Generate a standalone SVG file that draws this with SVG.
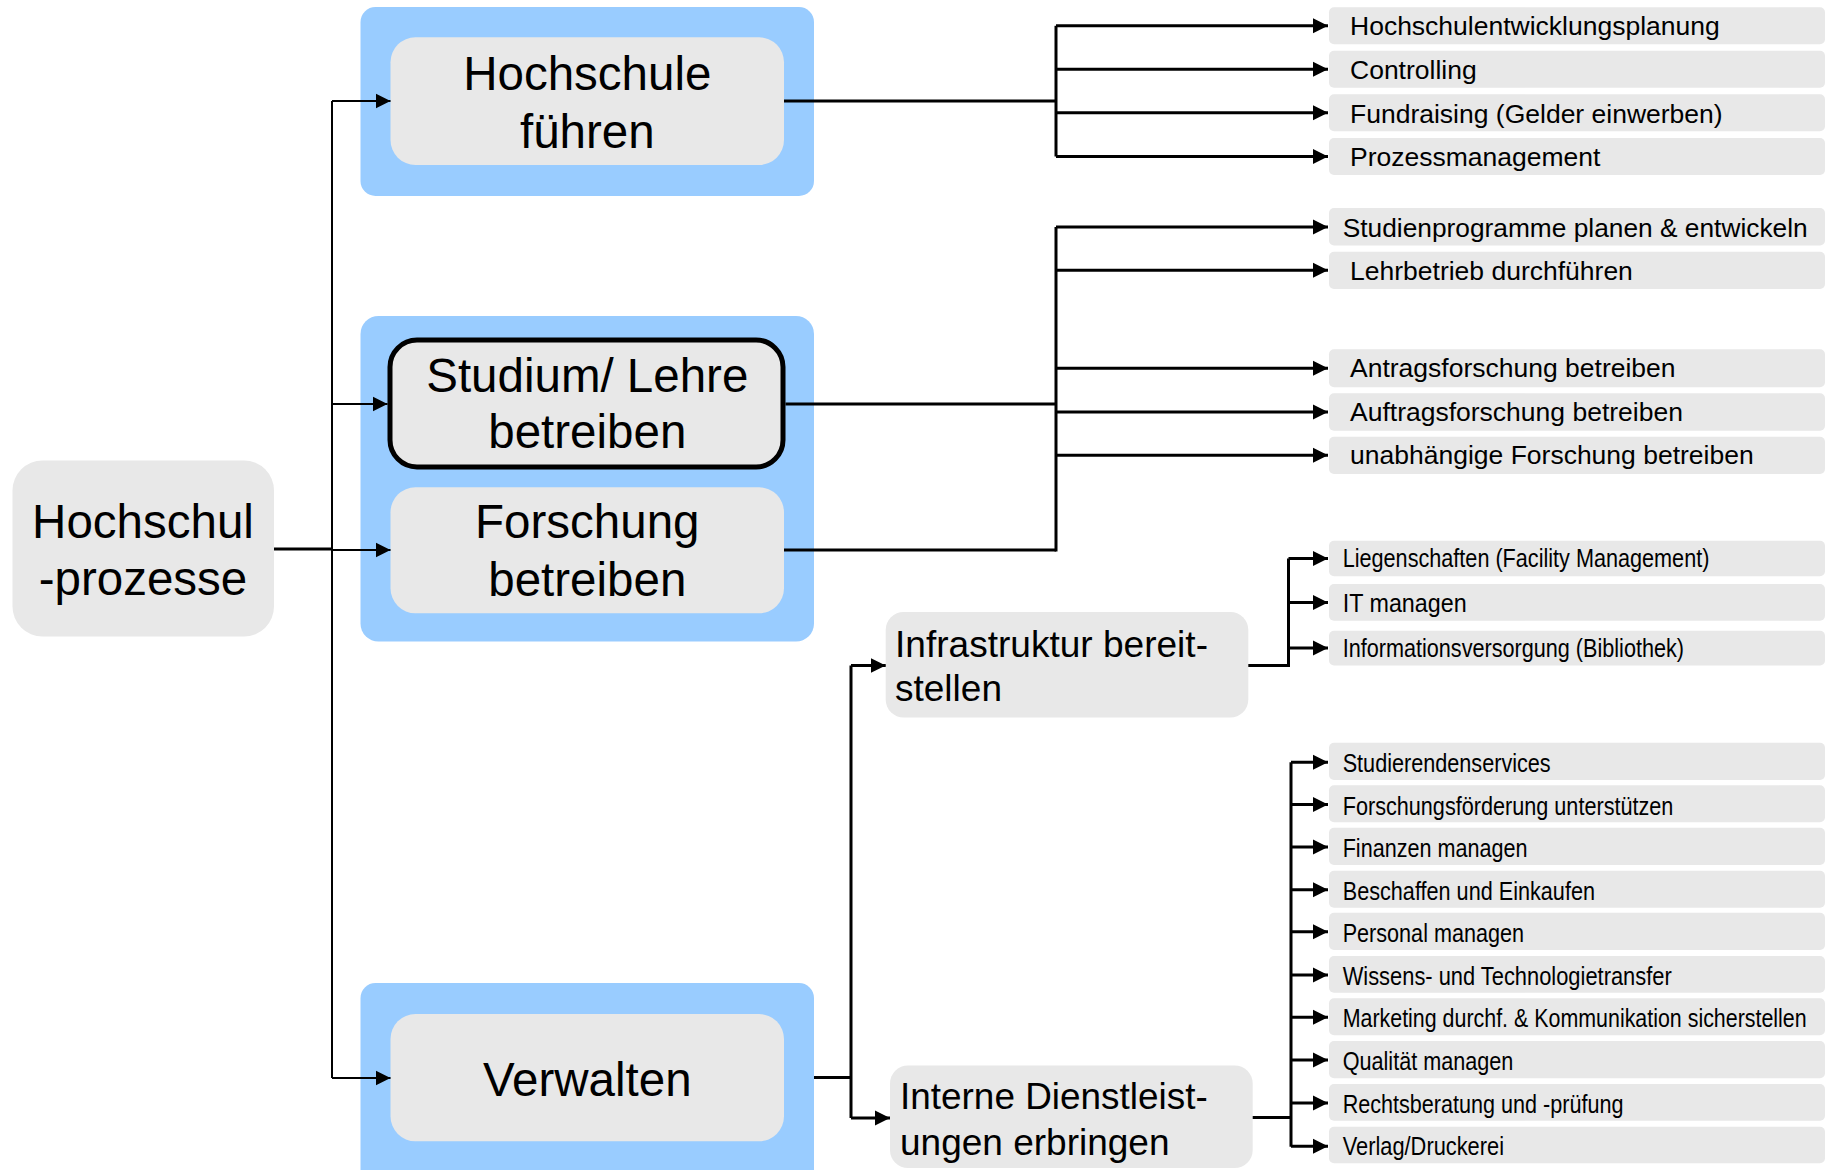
<svg xmlns="http://www.w3.org/2000/svg" width="1825" height="1170" viewBox="0 0 1825 1170">
<defs>
<marker id="ah" markerUnits="userSpaceOnUse" markerWidth="16" markerHeight="16" refX="15" refY="8" orient="auto">
<path d="M0,0.5 L15,8 L0,15.5 z" fill="#000"/>
</marker>
<style>
.blue{fill:#99CCFF}
.grey{fill:#E8E8E8}
.big{font-family:"Liberation Sans",Arial,sans-serif;font-size:47.5px;fill:#000;text-anchor:middle}
.mid{font-family:"Liberation Sans",Arial,sans-serif;font-size:37px;fill:#000}
.item{font-family:"Liberation Sans",Arial,sans-serif;font-size:26.5px;fill:#000}
.narrow{font-family:"Liberation Sans Narrow","Arial Narrow","Liberation Sans",sans-serif;font-size:26px;fill:#000}
.ln{fill:none;stroke:#000;stroke-width:3}
.thin{fill:none;stroke:#000;stroke-width:2}
.arr{fill:none;stroke:#000;stroke-width:3;marker-end:url(#ah)}
.arrthin{fill:none;stroke:#000;stroke-width:2;marker-end:url(#ah)}
</style>
</defs>

<g id="root">
<rect class="grey" x="12.5" y="460.5" width="261.5" height="176" rx="30"/>
<text class="big" x="143" y="538.3">Hochschul</text>
<text class="big" x="143" y="595">-prozesse</text>
</g>

<g id="hochschule-fuehren">
<rect class="blue" x="360.5" y="7" width="453.5" height="189" rx="15"/>
<rect class="grey" x="390.5" y="37.3" width="393.5" height="127.7" rx="25"/>
<text class="big" x="587.3" y="90">Hochschule</text>
<text class="big" x="587.3" y="147.7">führen</text>
</g>

<g id="kern">
<rect class="blue" x="360.5" y="316" width="453.5" height="325.5" rx="18"/>
</g>

<g id="studium-lehre">
<rect class="grey" x="390" y="340" width="393" height="127" rx="27" stroke="#000" stroke-width="5"/>
<text class="big" x="587.3" y="391.7">Studium/ Lehre</text>
<text class="big" x="587.3" y="448.3">betreiben</text>
</g>

<g id="forschung">
<rect class="grey" x="390.5" y="487.3" width="393.5" height="126" rx="25"/>
<text class="big" x="587.3" y="538.3">Forschung</text>
<text class="big" x="587.3" y="596">betreiben</text>
</g>

<g id="verwalten">
<rect class="blue" x="360.5" y="983" width="453.5" height="202" rx="15"/>
<rect class="grey" x="390.5" y="1014" width="393.5" height="127.3" rx="25"/>
<text class="big" x="587.3" y="1096">Verwalten</text>
</g>

<g id="infrastruktur">
<rect class="grey" x="885.7" y="612" width="362.6" height="105.5" rx="18"/>
<text class="mid" x="895" y="657" textLength="313" lengthAdjust="spacingAndGlyphs">Infrastruktur bereit-</text>
<text class="mid" x="895" y="700.7">stellen</text>
</g>

<g id="interne-dienstleistungen">
<rect class="grey" x="890" y="1065.5" width="362.7" height="102.5" rx="18"/>
<text class="mid" x="900" y="1109" textLength="307.7" lengthAdjust="spacingAndGlyphs">Interne Dienstleist-</text>
<text class="mid" x="900" y="1154.5">ungen erbringen</text>
</g>

<g id="items-fuehren">
<rect class="grey" x="1329" y="7.3" width="496" height="37" rx="5"/>
<text class="item" x="1350" y="35">Hochschulentwicklungsplanung</text>
<rect class="grey" x="1329" y="50.7" width="496" height="37" rx="5"/>
<text class="item" x="1350" y="79">Controlling</text>
<rect class="grey" x="1329" y="94.3" width="496" height="37" rx="5"/>
<text class="item" x="1350" y="122.7">Fundraising (Gelder einwerben)</text>
<rect class="grey" x="1329" y="138" width="496" height="37" rx="5"/>
<text class="item" x="1350" y="165.7">Prozessmanagement</text>
</g>

<g id="items-studium">
<rect class="grey" x="1329" y="208" width="496" height="37.5" rx="5"/>
<text class="item" x="1342.7" y="236.7" textLength="465" lengthAdjust="spacingAndGlyphs">Studienprogramme planen &amp; entwickeln</text>
<rect class="grey" x="1329" y="251.7" width="496" height="37.3" rx="5"/>
<text class="item" x="1350" y="280">Lehrbetrieb durchführen</text>
</g>

<g id="items-forschung">
<rect class="grey" x="1329" y="349.3" width="496" height="38" rx="5"/>
<text class="item" x="1350" y="377.3">Antragsforschung betreiben</text>
<rect class="grey" x="1329" y="393.3" width="496" height="37.4" rx="5"/>
<text class="item" x="1350" y="421">Auftragsforschung betreiben</text>
<rect class="grey" x="1329" y="436.7" width="496" height="37.3" rx="5"/>
<text class="item" x="1350" y="464.3">unabhängige Forschung betreiben</text>
</g>

<g id="items-infrastruktur">
<rect class="grey" x="1329" y="540.7" width="496" height="35.5" rx="5"/>
<text class="narrow" x="1342.7" y="567" textLength="366.7" lengthAdjust="spacingAndGlyphs">Liegenschaften (Facility Management)</text>
<rect class="grey" x="1329" y="584" width="496" height="36.7" rx="5"/>
<text class="narrow" x="1342.7" y="611.7" textLength="124" lengthAdjust="spacingAndGlyphs">IT managen</text>
<rect class="grey" x="1329" y="630.7" width="496" height="34.8" rx="5"/>
<text class="narrow" x="1342.7" y="656.7" textLength="341.3" lengthAdjust="spacingAndGlyphs">Informationsversorgung (Bibliothek)</text>
</g>

<g id="items-interne">
<rect class="grey" x="1329" y="742.7" width="496" height="37.3" rx="5"/>
<text class="narrow" x="1342.7" y="772" textLength="208" lengthAdjust="spacingAndGlyphs">Studierendenservices</text>
<rect class="grey" x="1329" y="785.3" width="496" height="37" rx="5"/>
<text class="narrow" x="1342.7" y="814.5" textLength="330.7" lengthAdjust="spacingAndGlyphs">Forschungsförderung unterstützen</text>
<rect class="grey" x="1329" y="827.7" width="496" height="37.3" rx="5"/>
<text class="narrow" x="1342.7" y="857" textLength="184.7" lengthAdjust="spacingAndGlyphs">Finanzen managen</text>
<rect class="grey" x="1329" y="870.7" width="496" height="37" rx="5"/>
<text class="narrow" x="1342.7" y="899.7" textLength="252.3" lengthAdjust="spacingAndGlyphs">Beschaffen und Einkaufen</text>
<rect class="grey" x="1329" y="912.7" width="496" height="37.3" rx="5"/>
<text class="narrow" x="1342.7" y="942" textLength="181.3" lengthAdjust="spacingAndGlyphs">Personal managen</text>
<rect class="grey" x="1329" y="956" width="496" height="36.7" rx="5"/>
<text class="narrow" x="1342.7" y="984.7" textLength="329" lengthAdjust="spacingAndGlyphs">Wissens- und Technologietransfer</text>
<rect class="grey" x="1329" y="998.3" width="496" height="37" rx="5"/>
<text class="narrow" x="1342.7" y="1027.3" textLength="464" lengthAdjust="spacingAndGlyphs">Marketing durchf. &amp; Kommunikation sicherstellen</text>
<rect class="grey" x="1329" y="1041" width="496" height="37.3" rx="5"/>
<text class="narrow" x="1342.7" y="1070" textLength="170.7" lengthAdjust="spacingAndGlyphs">Qualität managen</text>
<rect class="grey" x="1329" y="1084" width="496" height="36.7" rx="5"/>
<text class="narrow" x="1342.7" y="1112.7" textLength="280.7" lengthAdjust="spacingAndGlyphs">Rechtsberatung und -prüfung</text>
<rect class="grey" x="1329" y="1126.7" width="496" height="36.6" rx="5"/>
<text class="narrow" x="1342.7" y="1155.3" textLength="161.3" lengthAdjust="spacingAndGlyphs">Verlag/Druckerei</text>
</g>

<g id="connectors">
<path class="ln" d="M274,549 H332"/>
<path class="thin" d="M332,101 V1078"/>
<path class="arrthin" d="M332,101 H390.5"/>
<path class="arrthin" d="M332,404 H387.5"/>
<path class="arrthin" d="M332,550 H390.5"/>
<path class="arrthin" d="M332,1078 H390.5"/>
<path class="ln" d="M784,101 H1056"/>
<path class="ln" d="M1056,25.8 V156.5"/>
<path class="arr" d="M1056,25.8 H1328"/>
<path class="arr" d="M1056,69.2 H1328"/>
<path class="arr" d="M1056,112.8 H1328"/>
<path class="arr" d="M1056,156.5 H1328"/>
<path class="ln" d="M785.5,404 H1056"/>
<path class="ln" d="M784,550 H1056"/>
<path class="ln" d="M1056,227 V551.5"/>
<path class="arr" d="M1056,227 H1328"/>
<path class="arr" d="M1056,270.3 H1328"/>
<path class="arr" d="M1056,368.3 H1328"/>
<path class="arr" d="M1056,412 H1328"/>
<path class="arr" d="M1056,455.3 H1328"/>
<path class="ln" d="M814,1077.5 H851"/>
<path class="ln" d="M851,665.5 V1118"/>
<path class="arr" d="M851,665.5 H885.7"/>
<path class="arr" d="M851,1118 H890"/>
<path class="ln" d="M1248.3,665.5 H1288.5"/>
<path class="ln" d="M1288.5,558.5 V667"/>
<path class="arr" d="M1288.5,558.5 H1328"/>
<path class="arr" d="M1288.5,602.5 H1328"/>
<path class="arr" d="M1288.5,648 H1328"/>
<path class="ln" d="M1252.7,1117.5 H1291"/>
<path class="ln" d="M1291,762.2 V1146.7"/>
<path class="arr" d="M1291,762.2 H1328"/>
<path class="arr" d="M1291,804.5 H1328"/>
<path class="arr" d="M1291,847 H1328"/>
<path class="arr" d="M1291,889.7 H1328"/>
<path class="arr" d="M1291,931.7 H1328"/>
<path class="arr" d="M1291,975 H1328"/>
<path class="arr" d="M1291,1017.3 H1328"/>
<path class="arr" d="M1291,1060 H1328"/>
<path class="arr" d="M1291,1103 H1328"/>
<path class="arr" d="M1291,1146.2 H1328"/>
</g>
</svg>
